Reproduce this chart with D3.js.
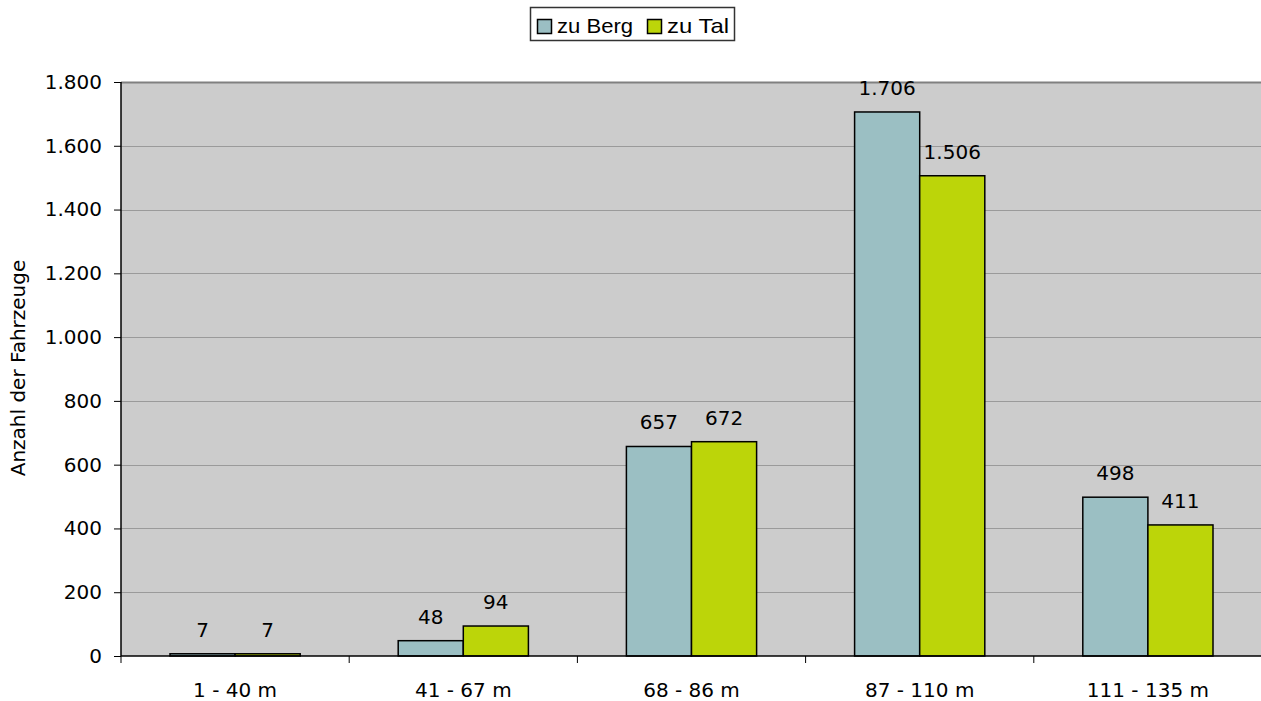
<!DOCTYPE html>
<html>
<head>
<meta charset="utf-8">
<script src="https://cdn.jsdelivr.net/npm/d3@7"></script>
<style>
  body { margin: 0; background: #fff; }
  text { font-family: "DejaVu Sans", Verdana, sans-serif; }
</style>
</head>
<body>
<div id="chart"></div>
<script>
// data
var categories = ['1 - 40 m', '41 - 67 m', '68 - 86 m', '87 - 110 m', '111 - 135 m'];
var seriesNames = ['zu Berg', 'zu Tal'];
var bergValues = [7, 48, 657, 1706, 498];
var talValues = [7, 94, 672, 1506, 411];
var yTicks = [0, 200, 400, 600, 800, 1000, 1200, 1400, 1600, 1800];
var colors = ['#9bbfc3', '#bcd509'];

var svgWidth = 1261, svgHeight = 701;
var margin = {top: 82, right: -1, bottom: 45, left: 121};
var width = svgWidth - margin.left - margin.right;
var height = svgHeight - margin.top - margin.bottom;

var fmt = function(v) { return d3.format(',')(v).replace(/,/g, '.'); };

var svg = d3.select('#chart').append('svg')
    .attr('width', svgWidth).attr('height', svgHeight);

var g = svg.append('g')
    .attr('transform', 'translate(' + margin.left + ',' + margin.top + ')');

var x = d3.scaleBand().domain(categories).range([0, width]);
var x1 = d3.scaleBand().domain(seriesNames).range([49, x.bandwidth() - 49]);
var y = d3.scaleLinear().domain([0, 1800]).range([height, 0]);

// plot background
g.append('rect')
    .attr('width', width).attr('height', height)
    .attr('fill', '#cccccc');

// grid lines
g.selectAll('.grid').data(yTicks.slice(1)).enter().append('line')
    .attr('x1', 0).attr('x2', width)
    .attr('y1', function(d) { return Math.round(y(d)) + 0.5; })
    .attr('y2', function(d) { return Math.round(y(d)) + 0.5; })
    .attr('stroke', function(d) { return d === 1800 ? '#808080' : '#9a9a9a'; })
    .attr('stroke-width', function(d) { return d === 1800 ? 2 : 1; });

// bars
var series = [bergValues, talValues];
series.forEach(function(vals, si) {
    g.selectAll('.bar' + si).data(vals).enter().append('rect')
        .attr('x', function(d, i) { return x(categories[i]) + x1(seriesNames[si]); })
        .attr('y', function(d) { return y(d); })
        .attr('width', x1.bandwidth())
        .attr('height', function(d) { return height - y(d); })
        .attr('fill', colors[si])
        .attr('stroke', '#000')
        .attr('stroke-width', 1.5);

    g.selectAll('.lab' + si).data(vals).enter().append('text')
        .attr('x', function(d, i) { return x(categories[i]) + x1(seriesNames[si]) + x1.bandwidth() / 2; })
        .attr('y', function(d) { return y(d) - 17; })
        .attr('text-anchor', 'middle')
        .attr('font-size', 20)
        .attr('fill', '#000')
        .text(function(d) { return fmt(d); });
});

// y axis
var yAxis = g.append('g')
    .call(d3.axisLeft(y).tickValues(yTicks).tickSize(7).tickFormat(fmt));
yAxis.select('.domain').attr('stroke', '#000').attr('stroke-width', 1.5)
    .attr('d', 'M0,0V' + height);
yAxis.selectAll('.tick line').attr('stroke', '#000');
yAxis.selectAll('.tick text').attr('font-size', 20).attr('x', -19).attr('fill', '#000')
    .style('font-family', '"DejaVu Sans", Verdana, sans-serif');

// x axis
var xAxis = g.append('g')
    .attr('transform', 'translate(0,' + height + ')');
xAxis.append('line')
    .attr('x1', 0).attr('x2', width)
    .attr('stroke', '#000').attr('stroke-width', 1.5);
xAxis.selectAll('.xt').data(d3.range(categories.length + 1)).enter().append('line')
    .attr('x1', function(i) { return i * x.step(); })
    .attr('x2', function(i) { return i * x.step(); })
    .attr('y1', 0).attr('y2', 7)
    .attr('stroke', '#000');
xAxis.selectAll('.xl').data(categories).enter().append('text')
    .attr('x', function(d) { return x(d) + x.bandwidth() / 2; })
    .attr('y', 41)
    .attr('text-anchor', 'middle')
    .attr('font-size', 20)
    .text(function(d) { return d; });

// axis title
svg.append('text')
    .attr('transform', 'translate(25,' + (margin.top + height / 2 - 1) + ') rotate(-90)')
    .attr('text-anchor', 'middle')
    .attr('font-size', 20)
    .text('Anzahl der Fahrzeuge');

// legend
var legend = svg.append('g').attr('transform', 'translate(530,7)');
legend.append('rect')
    .attr('x', 0.5).attr('y', 0.5).attr('width', 204).attr('height', 33)
    .attr('fill', '#fff').attr('stroke', '#333').attr('stroke-width', 1.5);
var legX = [7, 117];
var legW = [76, 62];
seriesNames.forEach(function(name, i) {
    legend.append('rect')
        .attr('x', legX[i] + 0.5).attr('y', 12.5).attr('width', 14).attr('height', 14)
        .attr('fill', colors[i]).attr('stroke', '#000').attr('stroke-width', 1.5);
    legend.append('text')
        .attr('x', legX[i] + 20).attr('y', 26)
        .attr('font-size', 21)
        .attr('textLength', legW[i])
        .attr('lengthAdjust', 'spacingAndGlyphs')
        .style('font-family', '"Liberation Sans", Arial, sans-serif')
        .text(name);
});
</script>
</body>
</html>
